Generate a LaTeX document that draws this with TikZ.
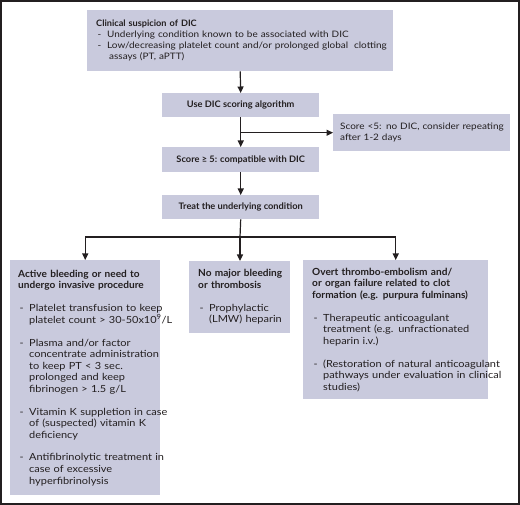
\documentclass[tikz,border=0pt]{standalone}
\usepackage{fontspec}
\setmainfont{Lato}[FakeStretch=1.12, BoldFeatures={FakeStretch=1.03}]
\usetikzlibrary{arrows.meta}
\definecolor{boxfill}{RGB}{201,202,221}
\definecolor{ink}{RGB}{35,31,32}
\newcommand\itm[1]{\mbox{\makebox[11pt][l]{\hspace{1.5pt}-}#1}}
\newcommand\cnt[1]{\mbox{\hspace*{11pt}#1}}
\newcommand\gap{\\[11.5pt]}
\tikzset{
  boxbase/.style={fill=boxfill, text=ink, anchor=north west, inner ysep=0pt},
  topbox/.style={boxbase, font=\fontsize{8.9}{11}\selectfont, align=left},
  mainbox/.style={boxbase, font=\fontsize{9}{11}\selectfont\bfseries, align=center, inner xsep=0pt},
  lowbox/.style={boxbase, font=\fontsize{9.8}{11.5}\selectfont, align=left},
  conn/.style={draw=ink, line width=1.2pt},
  arr/.style={conn, -{Triangle[length=6.5pt,width=6pt]}}
}
\begin{document}
\begin{tikzpicture}[x=1pt,y=-1pt]
\useasboundingbox (0,0) rectangle (520,505);
\draw[ink, line width=1.6pt] (1,1) rectangle (519,504);

\node[topbox, minimum width=306pt, minimum height=61pt, inner xsep=9pt, text width=288pt] (b1) at (87,10)
  {\mbox{\textbf{Clinical suspicion of DIC}}\\
   \itm{Underlying condition known to be associated with DIC}\\
   \itm{Low/decreasing platelet count and/or prolonged global\ \ clotting}\\
   \mbox{\hspace*{13pt}assays (PT, aPTT)}};

\node[mainbox, minimum width=157pt, minimum height=24pt] (b2) at (162,93) {Use DIC scoring algorithm};
\node[mainbox, minimum width=157pt, minimum height=25pt] (b3) at (162,147) {Score ≥ 5: compatible with DIC};
\node[mainbox, minimum width=157pt, minimum height=24pt] (b4) at (162,195) {Treat the underlying condition};

\node[topbox, minimum width=177pt, minimum height=37pt, inner xsep=7pt, text width=163pt] (s5) at (333,114)
  {\mbox{Score <5: no DIC, consider repeating}\\ \mbox{after 1-2 days}};

\node[lowbox, minimum width=150pt, minimum height=235pt, inner xsep=8pt, text width=134pt] (lb) at (10,260)
  {\mbox{\textbf{Active bleeding or need to}}\\
   \mbox{\textbf{undergo invasive procedure}}\gap
   \itm{Platelet transfusion to keep}\\
   \cnt{platelet count > 30-50x10\textsuperscript{9}/L}\gap
   \itm{Plasma and/or factor}\\
   \cnt{concentrate administration}\\
   \cnt{to keep PT < 3 sec.}\\
   \cnt{prolonged and keep}\\
   \cnt{fibrinogen > 1.5 g/L}\gap
   \itm{Vitamin K suppletion in case}\\
   \cnt{of (suspected) vitamin K}\\
   \cnt{deficiency}\gap
   \itm{Antifibrinolytic treatment in}\\
   \cnt{case of excessive}\\
   \cnt{hyperfibrinolysis}};

\node[lowbox, minimum width=101pt, minimum height=72pt, inner xsep=9pt, text width=83pt] (mb) at (189,261)
  {\mbox{\textbf{No major bleeding}}\\
   \mbox{\textbf{or thrombosis}}\gap
   \itm{Prophylactic}\\
   \cnt{(LMW) heparin}};

\node[lowbox, minimum width=185pt, minimum height=139pt, inner xsep=9pt, text width=167pt] (rb) at (303,260)
  {\mbox{\textbf{Overt thrombo-embolism and/}}\\
   \mbox{\textbf{or organ failure related to clot}}\\
   \mbox{\textbf{formation (e.g. purpura fulminans)}}\gap
   \itm{Therapeutic anticoagulant}\\
   \cnt{treatment (e.g. unfractionated}\\
   \cnt{heparin i.v.)}\gap
   \itm{(Restoration of natural anticoagulant}\\
   \cnt{pathways under evaluation in clinical}\\
   \cnt{studies)}};

% connectors
\draw[arr] (b1.south) -- (b2.north);
\draw[arr] (b2.south) -- (b3.north);
\coordinate (br) at (b2.south |- s5.west);
\draw[arr] (br) -- (s5.west);
\draw[arr] (b3.south) -- (b4.north);
\coordinate (sp) at (240,237);
\draw[conn] (b4.south) -- (sp);
\draw[conn] (lb.north |- sp) -- (rb.north |- sp);
\draw[arr] (lb.north |- sp) -- (lb.north);
\draw[arr] (sp) -- (sp |- mb.north);
\draw[arr] (rb.north |- sp) -- (rb.north);
\end{tikzpicture}
\end{document}
